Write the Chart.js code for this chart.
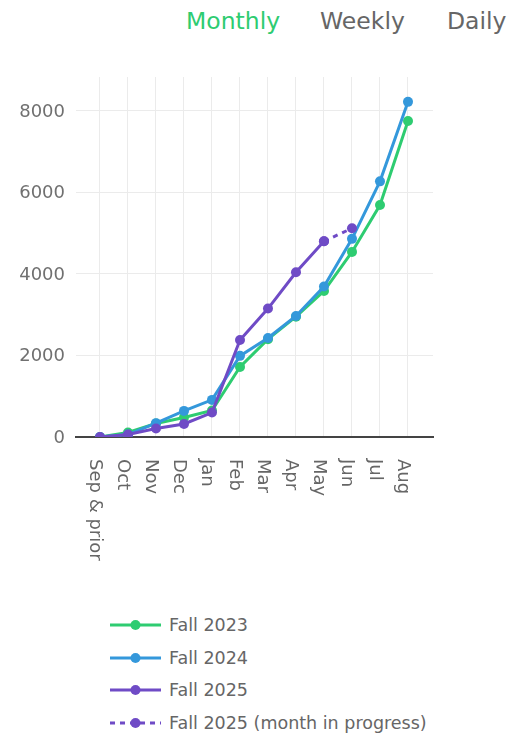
<!DOCTYPE html>
<html>
<head>
<meta charset="utf-8">
<script src="https://cdn.jsdelivr.net/npm/chart.js@4/dist/chart.umd.min.js"></script>
<style>
  body { margin: 0; background: #fff; font-family: "DejaVu Sans", sans-serif; }
  #page { position: relative; width: 526px; height: 737px; overflow: hidden; }
  .toggle { position: absolute; top: 8px; font-size: 23.5px; line-height: 27px; color: #666; }
  .toggle.active { color: #2ecc71; }
  #chart { position: absolute; left: 0; top: 0; }
  #legend { position: absolute; left: 110px; top: 609px; }
  .legend-row { display: flex; align-items: center; height: 32.5px; font-size: 17.5px; color: #666; }
  .legend-row svg { margin-right: 8px; }
</style>
</head>
<body>
<div id="page">
  <div class="toggle active" style="left:186px">Monthly</div>
  <div class="toggle" style="left:320px">Weekly</div>
  <div class="toggle" style="left:447px">Daily</div>
  <canvas id="chart" width="526" height="600"></canvas>
  <div id="legend"></div>
</div>
<script>
// ------------------------------
// DATA
// ------------------------------

const months = ["Sep & prior", "Oct", "Nov", "Dec", "Jan", "Feb", "Mar", "Apr", "May", "Jun", "Jul", "Aug"];

const fall2023 = [0, 110, 330, 480, 650, 1720, 2400, 2950, 3580, 4540, 5690, 7750];
const fall2024 = [0, 60, 340, 640, 910, 1990, 2430, 2970, 3690, 4860, 6270, 8220];
const fall2025 = [0, 60, 210, 320, 600, 2380, 3150, 4040, 4800, null, null, null];
const fall2025Progress = [null, null, null, null, null, null, null, null, 4800, 5120, null, null];

const seriesNames = ["Fall 2023", "Fall 2024", "Fall 2025", "Fall 2025 (month in progress)"];
const yTicks = [0, 2000, 4000, 6000, 8000];
const yMax = 8830;

const GREEN = "#2ecc71";
const BLUE = "#3498db";
const PURPLE = "#6f4bc6";


// ------------------------------
// X LABELS (rotated, reading downwards)
// ------------------------------

const xLabelPlugin = {
  id: "xLabels",
  afterDraw(chart) {
    const ctx = chart.ctx;
    const xScale = chart.scales.x;
    const top = chart.chartArea.bottom + 22;

    ctx.save();
    ctx.font = "18px 'DejaVu Sans'";
    ctx.fillStyle = "#666";
    ctx.textAlign = "left";
    ctx.textBaseline = "alphabetic";

    months.forEach((label, i) => {
      const x = xScale.getPixelForTick(i);
      ctx.save();
      ctx.translate(x - 10, top);
      ctx.rotate(Math.PI / 2);
      ctx.fillText(label, 0, 0);
      ctx.restore();
    });

    ctx.restore();
  }
};


// ------------------------------
// CHART
// ------------------------------

function lineSet(label, data, color, order, dashed) {
  return {
    label: label,
    data: data,
    borderColor: color,
    backgroundColor: color,
    borderWidth: 3,
    borderDash: dashed ? [5, 5] : [],
    pointRadius: 5,
    pointHoverRadius: 5,
    pointBorderWidth: 0,
    tension: 0,
    spanGaps: false,
    order: order
  };
}

const chart = new Chart(document.getElementById("chart"), {
  type: "line",
  data: {
    labels: months,
    datasets: [
      lineSet(seriesNames[0], fall2023, GREEN, 3, false),
      lineSet(seriesNames[1], fall2024, BLUE, 2, false),
      lineSet(seriesNames[2], fall2025, PURPLE, 1, false),
      lineSet(seriesNames[3], fall2025Progress, PURPLE, 0, true)
    ]
  },
  options: {
    responsive: false,
    animation: false,
    layout: { padding: { top: 77, right: 93, left: 0, bottom: 0 } },
    plugins: {
      legend: { display: false },
      tooltip: { enabled: false }
    },
    scales: {
      x: {
        offset: true,
        grid: { color: "#ebebeb", lineWidth: 1, drawTicks: false },
        border: { display: true, color: "#444", width: 2 },
        ticks: { display: false },
        // wider side margin than the default half category
        afterBuildTicks: (scale) => {
          scale._startValue = -0.857;
          scale._valueRange = 12.75;
        },
        afterFit: (scale) => { scale.height = 163; }
      },
      y: {
        min: 0,
        max: yMax,
        grid: { color: "#ebebeb", lineWidth: 1, drawTicks: false },
        border: { display: false },
        afterBuildTicks: (scale) => {
          scale.ticks = yTicks.map(v => ({ value: v }));
        },
        ticks: {
          padding: 11,
          labelOffset: 1,
          color: "#707070",
          font: { family: "'DejaVu Sans'", size: 18 },
          callback: (value) => String(value)
        },
        afterFit: (scale) => { scale.width = 76; }
      }
    }
  },
  plugins: [xLabelPlugin]
});


// ------------------------------
// LEGEND
// ------------------------------

function buildLegend() {
  const legend = document.getElementById("legend");
  chart.data.datasets.forEach(ds => {
    const row = document.createElement("div");
    row.className = "legend-row";
    const dash = ds.borderDash.length ? ' stroke-dasharray="5 5"' : "";
    row.innerHTML =
      '<svg width="51" height="12">' +
      '<line x1="0" y1="6" x2="51" y2="6" stroke="' + ds.borderColor + '" stroke-width="3"' + dash + '/>' +
      '<circle cx="25.5" cy="6" r="5" fill="' + ds.borderColor + '"/>' +
      '</svg><span>' + ds.label + '</span>';
    legend.appendChild(row);
  });
}

buildLegend();
</script>
</body>
</html>
